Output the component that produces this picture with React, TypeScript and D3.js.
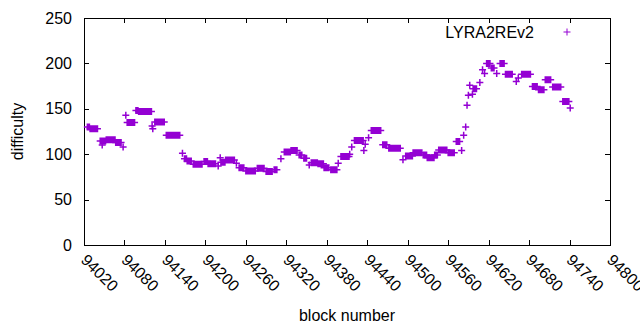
import { useEffect, useRef } from "react";
import * as d3 from "d3";

// runs of constant difficulty: one "+" per block from runFrom..runTo
const runFrom = [
  94025, 94029, 94044, 94047, 94053, 94067, 94078, 94082, 94084, 94097, 94101, 94121, 94122, 94125, 94142,
  94166, 94169, 94173, 94182, 94198, 94204, 94219, 94222, 94223, 94230, 94246, 94250, 94260, 94277, 94290,
  94302, 94312, 94317, 94327, 94339, 94346, 94354, 94357, 94367, 94376, 94386, 94397, 94401, 94414, 94417,
  94421, 94435, 94437, 94442, 94446, 94463, 94472, 94493, 94497, 94508, 94523, 94529, 94540, 94546, 94560,
  94572, 94580, 94583, 94586, 94588, 94590, 94592, 94596, 94597, 94607, 94611, 94614, 94617, 94624, 94632,
  94637, 94645, 94661, 94664, 94669, 94685, 94694, 94704, 94715, 94730, 94741,
];
const runTo = [
  94028, 94040, 94052, 94047, 94066, 94075, 94078, 94082, 94095, 94100, 94120, 94121, 94122, 94139, 94162,
  94166, 94172, 94179, 94195, 94203, 94215, 94219, 94222, 94229, 94243, 94246, 94257, 94274, 94287, 94299,
  94306, 94312, 94326, 94336, 94343, 94350, 94354, 94366, 94375, 94383, 94395, 94397, 94413, 94414, 94417,
  94434, 94435, 94437, 94442, 94460, 94469, 94489, 94493, 94507, 94521, 94528, 94539, 94544, 94558, 94569,
  94577, 94580, 94583, 94586, 94588, 94590, 94592, 94596, 94602, 94607, 94611, 94614, 94622, 94628, 94632,
  94643, 94655, 94661, 94664, 94682, 94692, 94702, 94712, 94727, 94739, 94741,
];
const runDifficulty = [
  130, 128, 114.5, 110, 116, 113, 108, 143, 135, 148, 147, 131, 128, 135.5, 121,
  101, 95, 92.5, 89, 92, 89.5, 87, 96, 91, 93.5, 90, 85, 81.5, 84.5, 81,
  83, 95, 102.5, 104, 99, 95.5, 88, 90.5, 89.5, 85, 83, 90, 97.5, 100, 108,
  115, 104, 111, 118, 126, 110.5, 106.5, 94, 98, 101.5, 99, 96, 99, 104.5, 101.5,
  114, 104, 121, 130, 154, 165, 176, 166, 172, 179, 193, 189, 200, 195, 189,
  200, 188, 180, 184, 188, 174.5, 171, 182, 174, 158, 151,
];

const xTicks = [94020, 94080, 94140, 94200, 94260, 94320, 94380, 94440, 94500, 94560, 94620, 94680, 94740, 94800];
const yTicks = [0, 50, 100, 150, 200, 250];

const W = 640, H = 330;
const M = { top: 18, right: 30, bottom: 85, left: 84 };
const PURPLE = "#9400d3";
const FONT = "'Liberation Sans', Arial, sans-serif";

function plus(x: number, y: number, r: number) {
  return `M${x - r},${y}H${x + r}M${x},${y - r}V${y + r}`;
}

export default function App() {
  const ref = useRef<SVGSVGElement>(null);
  useEffect(() => {
    const el = ref.current;
    if (!el) return;
    const svg = d3.select(el);
    svg.selectAll("*").remove();
    svg.append("rect").attr("width", W).attr("height", H).attr("fill", "#fff");

    const x = d3.scaleLinear().domain([94020, 94800]).range([M.left, W - M.right]);
    const y = d3.scaleLinear().domain([0, 250]).range([H - M.bottom, M.top]);
    const x0 = x.range()[0], x1 = x.range()[1], y0 = y.range()[0], y1 = y.range()[1];

    // ticks (inward, mirrored)
    const g = svg.append("g").attr("stroke", "#000").attr("stroke-width", 1).attr("shape-rendering", "crispEdges");
    xTicks.forEach((t) => {
      const px = Math.round(x(t)) + 0.5;
      g.append("line").attr("x1", px).attr("x2", px).attr("y1", y0).attr("y2", y0 - 5);
      g.append("line").attr("x1", px).attr("x2", px).attr("y1", y1).attr("y2", y1 + 5);
      svg.append("text").attr("transform", `translate(${x(t) - 1},${y0 + 13}) rotate(45)`)
        .attr("font-family", FONT).attr("font-size", 16).attr("fill", "#000").attr("dominant-baseline", "middle").text(t);
    });
    yTicks.forEach((t) => {
      const py = Math.round(y(t)) + 0.5;
      g.append("line").attr("x1", x0).attr("x2", x0 + 5).attr("y1", py).attr("y2", py);
      g.append("line").attr("x1", x1).attr("x2", x1 - 5).attr("y1", py).attr("y2", py);
      svg.append("text").attr("x", x0 - 12).attr("y", y(t)).attr("text-anchor", "end").attr("dominant-baseline", "central")
        .attr("font-family", FONT).attr("font-size", 16).attr("fill", "#000").text(t);
    });
    g.append("rect").attr("x", x0 + 0.5).attr("y", y1 + 0.5).attr("width", x1 - x0).attr("height", y0 - y1).attr("fill", "none");

    // axis titles
    svg.append("text").attr("x", (x0 + x1) / 2).attr("y", 321).attr("text-anchor", "middle")
      .attr("font-family", FONT).attr("font-size", 16).attr("fill", "#000").text("block number");
    svg.append("text").attr("transform", `translate(23,${(y0 + y1) / 2}) rotate(-90)`).attr("text-anchor", "middle")
      .attr("font-family", FONT).attr("font-size", 16).attr("fill", "#000").text("difficulty");

    // points
    const pts = svg.append("g").attr("stroke", PURPLE).attr("stroke-width", 1.5).attr("fill", "none");
    runFrom.forEach((from, i) => {
      let d = "";
      for (let b = from; b <= runTo[i]; b++) d += plus(x(b), y(runDifficulty[i]), 3.5);
      pts.append("path").attr("d", d);
    });

    // legend
    svg.append("text").attr("x", 534).attr("y", 32).attr("text-anchor", "end").attr("dominant-baseline", "central")
      .attr("font-family", FONT).attr("font-size", 16).attr("fill", "#000").text("LYRA2REv2");
    svg.append("path").attr("d", plus(567, 32, 3.5)).attr("stroke", PURPLE).attr("stroke-width", 1);
  }, []);
  return (
    <div style={{ position: "fixed", left: 0, top: 0, width: W, height: H, overflow: "hidden" }}>
      <svg ref={ref} width={W} height={H} style={{ display: "block" }} />
    </div>
  );
}
